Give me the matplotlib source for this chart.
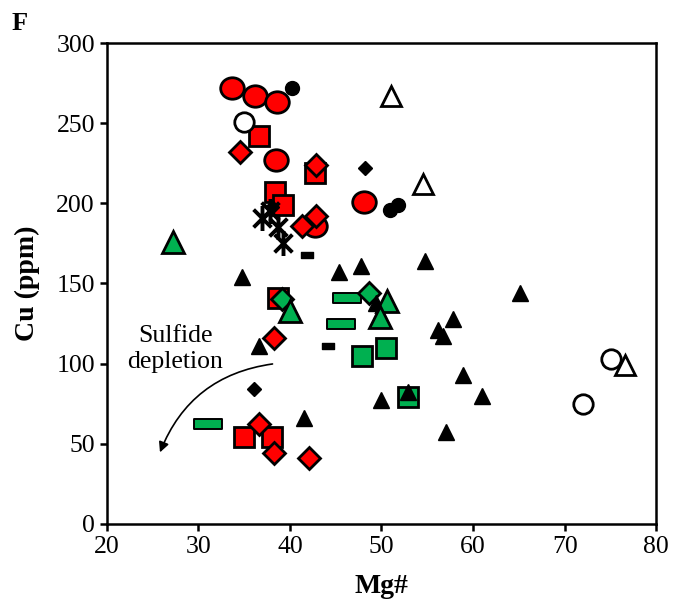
import matplotlib.pyplot as plt
from matplotlib.path import Path

plt.rcParams['font.family'] = ['Liberation Serif', 'DejaVu Serif']

# Mg#, Cu (ppm) for each symbol group
red_circ_x = [33.7, 36.2, 38.6, 38.5, 48.1, 42.7]
red_circ_y = [272, 267, 263, 227, 201, 186]
red_sq_x = [36.6, 42.7, 38.4, 39.2, 38.7, 35.0, 38.0]
red_sq_y = [242, 219, 207, 199, 141, 54, 54]
red_dia_x = [34.5, 42.9, 42.9, 41.3, 38.3, 36.6, 38.3, 42.1]
red_dia_y = [232, 224, 192, 186, 116, 62, 44, 41]
blk_circ_x = [40.2, 50.9, 51.8]
blk_circ_y = [272, 196, 199]
open_circ_x = [35.0, 75.1, 72.0]
open_circ_y = [251, 103, 75]
open_tri_x = [51.0, 54.5, 76.6]
open_tri_y = [267, 212, 99]
blk_dia_x = [48.2, 38.0, 36.1]
blk_dia_y = [222, 198, 84]
star_x = [36.9, 37.8, 38.7, 39.3]
star_y = [191, 195, 185, 175]
dash_x = [41.9, 44.2]
dash_y = [168, 111]
grn_tri_x = [27.2, 40.0, 50.6, 49.8]
grn_tri_y = [176, 133, 139, 129]
grn_dia_x = [39.1, 48.6]
grn_dia_y = [140, 144]
grn_rect_x = [31.1, 46.2, 45.6]
grn_rect_y = [62, 141, 125]
grn_sq_x = [47.9, 50.5, 52.9]
grn_sq_y = [105, 110, 79]
blk_tri_x = [34.8, 36.6, 41.5, 45.4, 47.8, 54.7, 65.1, 49.4, 57.8, 56.2, 56.7, 58.9, 52.9, 50.0, 61.0, 57.0]
blk_tri_y = [154, 111, 66, 157, 161, 164, 144, 138, 128, 121, 117, 93, 82, 77, 80, 57]

RED = '#ff0000'
GREEN = '#00b050'

# slightly wide ellipse for the red circles
ell = Path.unit_circle().transformed(
    __import__('matplotlib').transforms.Affine2D().scale(1.1, 1.0))
rect = Path([(-1.35, -0.5), (1.35, -0.5), (1.35, 0.5), (-1.35, 0.5), (-1.35, -0.5)],
            [Path.MOVETO, Path.LINETO, Path.LINETO, Path.LINETO, Path.CLOSEPOLY])
dash = Path([(-1, -0.5), (1, -0.5), (1, 0.5), (-1, 0.5), (-1, -0.5)],
            [Path.MOVETO, Path.LINETO, Path.LINETO, Path.LINETO, Path.CLOSEPOLY])
star = Path([(0, -1), (0, 1), (-0.71, -0.71), (0.71, 0.71), (-0.71, 0.71), (0.71, -0.71)],
            [Path.MOVETO, Path.LINETO, Path.MOVETO, Path.LINETO, Path.MOVETO, Path.LINETO])

fig = plt.figure(figsize=(6.8, 6.07), dpi=100)
ax = fig.add_axes([0.157, 0.137, 0.808, 0.792])

ew = 2.0
ax.plot(red_circ_x, red_circ_y, marker=ell, ms=17, mfc=RED, mec='k', mew=ew, ls='none')
ax.plot(red_sq_x, red_sq_y, 's', ms=15, mfc=RED, mec='k', mew=ew, ls='none')
ax.plot(red_dia_x, red_dia_y, 'D', ms=11, mfc=RED, mec='k', mew=ew, ls='none')
ax.plot(grn_sq_x, grn_sq_y, 's', ms=15, mfc=GREEN, mec='k', mew=ew, ls='none')
ax.plot(grn_rect_x, grn_rect_y, marker=rect, ms=20, mfc=GREEN, mec='k', mew=1.4, ls='none')
ax.plot(grn_dia_x, grn_dia_y, 'D', ms=11, mfc=GREEN, mec='k', mew=ew, ls='none')
ax.plot(blk_tri_x, blk_tri_y, '^', ms=11, mfc='k', mec='k', ls='none')
ax.plot(grn_tri_x, grn_tri_y, '^', ms=16, mfc=GREEN, mec='k', mew=ew, ls='none')
ax.plot(blk_circ_x, blk_circ_y, 'o', ms=10, mfc='k', mec='k', ls='none')
ax.plot(blk_dia_x, blk_dia_y, 'D', ms=7, mfc='k', mec='k', ls='none')
ax.plot(dash_x, dash_y, marker=dash, ms=9, mfc='k', mec='k', ls='none')
ax.plot(star_x, star_y, marker=star, ms=18, mec='k', mew=2.8, ls='none')
ax.plot(open_circ_x, open_circ_y, 'o', ms=14, mfc='white', mec='k', mew=ew, ls='none')
ax.plot(open_tri_x, open_tri_y, '^', ms=15, mfc='white', mec='k', mew=ew, ls='none')

ax.annotate('', xy=(25.7, 43), xytext=(38.4, 100),
            arrowprops=dict(arrowstyle='-|>', color='k', lw=1.2, mutation_scale=15,
                            connectionstyle='arc3,rad=0.3'))
ax.text(27.5, 109, 'Sulfide\ndepletion', fontsize=18.5, ha='center', va='center',
        linespacing=1.25)

ax.set_xlim(20, 80)
ax.set_ylim(0, 300)
ax.set_xticks(range(20, 81, 10))
ax.set_yticks(range(0, 301, 50))
for s in ax.spines.values():
    s.set_linewidth(1.8)
ax.tick_params(direction='out', length=5, width=1.8, labelsize=18.5)
ax.set_xlabel('Mg#', fontsize=20, fontweight='bold', labelpad=12)
ax.set_ylabel('Cu (ppm)', fontsize=20, fontweight='bold', labelpad=12)
fig.text(0.017, 0.962, 'F', fontsize=19, fontweight='bold', va='center')

plt.savefig('out.png', dpi=100)
